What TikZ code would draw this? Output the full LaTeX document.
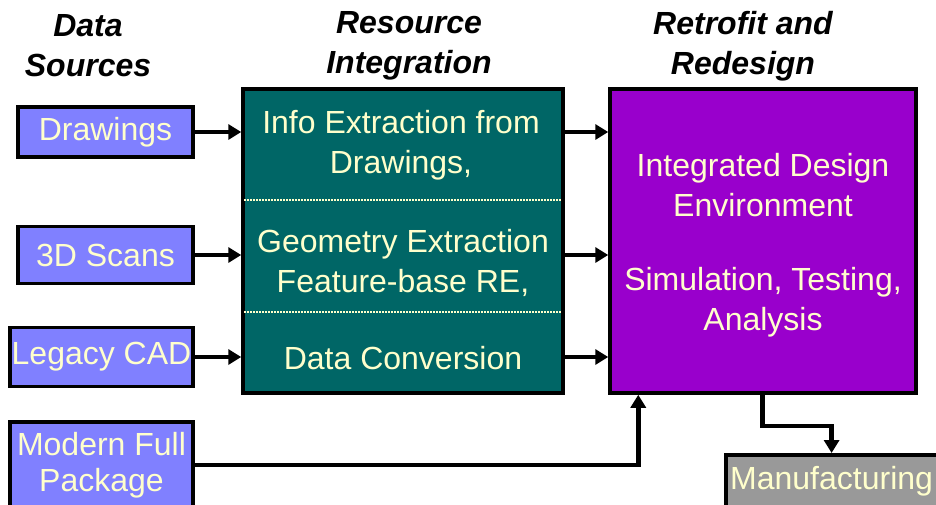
\documentclass[tikz,border=0pt]{standalone}
\usepackage{fontspec}
\setmainfont{Liberation Sans}
\usetikzlibrary{arrows.meta}
\definecolor{txtyel}{HTML}{FFFFCC}
\definecolor{srcblue}{HTML}{8080FF}
\definecolor{riteal}{HTML}{006666}
\definecolor{rdpurple}{HTML}{9900CC}
\definecolor{mfggray}{HTML}{999999}
\tikzset{
  box/.style={draw=black, line width=3.5pt, inner sep=0pt, text=txtyel, align=center,
    font=\fontsize{32}{38}\selectfont},
  srcbox/.style={box, fill=srcblue},
  txt/.style={text=txtyel, align=center, inner sep=0pt, font=\fontsize{32}{40}\selectfont},
  hdr/.style={text=black, align=center, inner sep=0pt, font=\fontsize{32}{40}\selectfont\bfseries\itshape},
  arr/.style={line width=4.5pt, -{Triangle[length=13pt,width=15pt]}},
  sep/.style={draw=txtyel, line width=1.6pt, dash pattern=on 1.6pt off 1.4pt}
}
\begin{document}
\begin{tikzpicture}[x=1pt,y=-1pt]
\useasboundingbox (0,0) rectangle (936,504);
\clip (0,0) rectangle (936,504);
\fill[white] (0,0) rectangle (936,504);

% headers
\node[hdr] (h1) at (88,46) {Data\\Sources};
\node[hdr] (h2) at (409,46) {Resource\\Integration};
\node[hdr] (h3) at (743,46) {Retrofit and\\Redesign};

% source boxes
\node[srcbox, minimum width=175pt, minimum height=50pt] (drw) at (105.5,132) {Drawings};
\node[srcbox, minimum width=175pt, minimum height=57pt] (scn) at (105.5,255) {3D Scans};
\node[srcbox, minimum width=183pt, minimum height=59pt] (cad) at (101.5,357) {Legacy CAD};
\node[srcbox, minimum width=183pt, minimum height=86pt, font=\fontsize{32}{36}\selectfont] (mfp) at (101.5,465) {Modern Full\\Package};

% resource integration
\node[box, fill=riteal, minimum width=320pt, minimum height=304pt] (ri) at (403,241) {};
\coordinate (sep1) at (403,200);
\coordinate (sep2) at (403,312);
\draw[sep] ([xshift=3pt]ri.west |- sep1) -- ([xshift=-3pt]ri.east |- sep1);
\draw[sep] ([xshift=3pt]ri.west |- sep2) -- ([xshift=-3pt]ri.east |- sep2);
\node[txt] (ri1) at (401,145) {Info Extraction from\\Drawings,};
\node[txt] (ri2) at (403,263) {Geometry Extraction\\Feature-base RE,};
\node[txt] (ri3) at (403,358) {Data Conversion};

% retrofit and redesign
\node[box, fill=rdpurple, minimum width=306pt, minimum height=304pt] (ide) at (763,241) {};
\node[txt] (ide1) at (763,185) {Integrated Design\\Environment};
\node[txt] (ide2) at (763,302) {Simulation, Testing,\\Analysis};

% manufacturing
\node[box, fill=mfggray, minimum width=218pt, minimum height=60pt, anchor=north west] (mfg) at (724,453) {};
\node[txt, anchor=west] (mfgt) at (730,481) {Manufacturing};

% connectors
\draw[arr] (drw.east) -- (drw.east -| ri.west);
\draw[arr] (scn.east) -- (scn.east -| ri.west);
\draw[arr] (cad.east) -- (cad.east -| ri.west);
\draw[arr] (ri.east |- drw.east) -- (ide.west |- drw.east);
\draw[arr] (ri.east |- scn.east) -- (ide.west |- scn.east);
\draw[arr] (ri.east |- cad.east) -- (ide.west |- cad.east);
\draw[arr] (mfp.east) -| ([xshift=30pt]ide.south west);
\draw[arr] ([xshift=154pt]ide.south west) -- ++(0,31) -| (mfg.north -| mfgt.center);
\end{tikzpicture}
\end{document}
